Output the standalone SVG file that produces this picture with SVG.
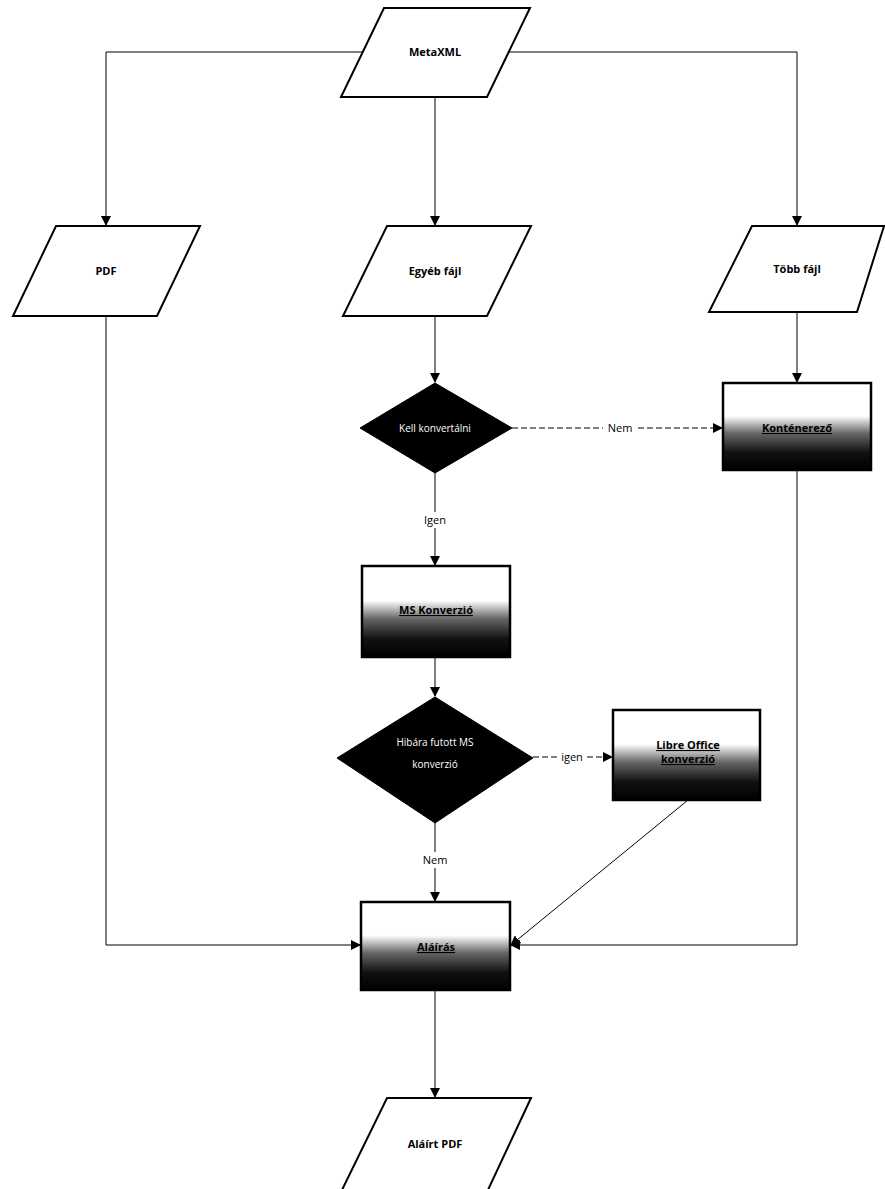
<svg xmlns="http://www.w3.org/2000/svg" width="885" height="1189" viewBox="0 0 885 1189">
<defs>
<style>
.para{fill:#fff;stroke:#000;stroke-width:2}
.box{fill:url(#g);stroke:#000;stroke-width:2.5}
.dia{fill:#000;stroke:#000;stroke-width:1}
.t{font-family:"Open Sans","Liberation Sans",sans-serif;font-size:11px;font-weight:bold;fill:#000;text-anchor:middle}
.bt{font-family:"Open Sans","Liberation Sans",sans-serif;font-size:11px;font-weight:bold;fill:#000;text-anchor:middle;text-decoration:underline}
.dt{font-family:"Open Sans","Liberation Sans",sans-serif;font-size:10px;fill:#fff;text-anchor:middle}
.lt{font-family:"Open Sans","Liberation Sans",sans-serif;font-size:11px;fill:#000;text-anchor:middle}
.c{fill:none;stroke:#000;stroke-width:1}
.d{fill:none;stroke:#000;stroke-width:1;stroke-dasharray:6,3}
</style>
<linearGradient id="g" x1="0" y1="0" x2="0" y2="1">
<stop offset="0" stop-color="#fff"/>
<stop offset="0.38" stop-color="#fff"/>
<stop offset="0.58" stop-color="#666"/>
<stop offset="0.8" stop-color="#111"/>
<stop offset="1" stop-color="#000"/>
</linearGradient>
<marker id="a" markerWidth="10" markerHeight="10" refX="9" refY="5" orient="auto" markerUnits="userSpaceOnUse">
<path d="M0,0 L10,5 L0,10 z" fill="#000"/>
</marker>
</defs>
<g id="connectors">
<polyline class="c" points="366,52 106,52 106,225" marker-end="url(#a)"/>
<polyline class="c" points="509,52 797,52 797,225" marker-end="url(#a)"/>
<line class="c" x1="435" y1="97" x2="435" y2="225" marker-end="url(#a)"/>
<line class="c" x1="435" y1="316" x2="435" y2="382" marker-end="url(#a)"/>
<polyline class="c" points="106,316 106,945 360,945" marker-end="url(#a)"/>
<line class="c" x1="797" y1="312" x2="797" y2="382" marker-end="url(#a)"/>
<line class="d" x1="512" y1="428" x2="722" y2="428" marker-end="url(#a)"/>
<line class="c" x1="435" y1="473" x2="435" y2="565" marker-end="url(#a)"/>
<line class="c" x1="435" y1="657" x2="435" y2="696" marker-end="url(#a)"/>
<line class="d" x1="533" y1="757" x2="612" y2="757" marker-end="url(#a)"/>
<line class="c" x1="435" y1="823" x2="435" y2="901" marker-end="url(#a)"/>
<line class="c" x1="688" y1="800" x2="511" y2="945" marker-end="url(#a)"/>
<polyline class="c" points="797,470 797,945 511,945" marker-end="url(#a)"/>
<line class="c" x1="435" y1="990" x2="435" y2="1097" marker-end="url(#a)"/>
<rect x="603" y="420" width="34" height="14" fill="#fff"/>
<text class="lt" x="620" y="432">Nem</text>
<rect x="417" y="512" width="36" height="16" fill="#fff"/>
<text class="lt" x="435" y="524">Igen</text>
<rect x="558" y="749" width="28" height="14" fill="#fff"/>
<text class="lt" x="572" y="761">igen</text>
<rect x="417" y="852" width="36" height="16" fill="#fff"/>
<text class="lt" x="435" y="864">Nem</text>
</g>
<g id="metaxml">
<polygon class="para" points="384,8 530,8 487,97 341,97"/>
<text class="t" x="435" y="56">MetaXML</text>
</g>
<g id="pdf">
<polygon class="para" points="56,226 200,226 157,316 13,316"/>
<text class="t" x="106" y="275">PDF</text>
</g>
<g id="egyeb">
<polygon class="para" points="387,226 531,226 487,316 343,316"/>
<text class="t" x="435" y="275">Egyéb fájl</text>
</g>
<g id="tobb">
<polygon class="para" points="752,226 884,226 857,312 709,312"/>
<text class="t" x="797" y="273">Több fájl</text>
</g>
<g id="kell">
<polygon class="dia" points="435,383 512,428 435,473 360,428"/>
<text class="dt" x="435" y="432">Kell konvertálni</text>
</g>
<g id="kontenerezo">
<rect class="box" x="723" y="383" width="148" height="87"/>
<text class="bt" x="797" y="432">Konténerező</text>
</g>
<g id="ms">
<rect class="box" x="362" y="566" width="148" height="91"/>
<text class="bt" x="436" y="614">MS Konverzió</text>
</g>
<g id="hiba">
<polygon class="dia" points="435,697 533,758 435,823 337,758"/>
<text class="dt" x="435" y="746">Hibára futott MS</text>
<text class="dt" x="435" y="768">konverzió</text>
</g>
<g id="libre">
<rect class="box" x="613" y="710" width="147" height="90"/>
<text class="bt" x="688" y="749">Libre Office</text>
<text class="bt" x="688" y="763">konverzió</text>
</g>
<g id="alairas">
<rect class="box" x="361" y="902" width="149" height="88"/>
<text class="bt" x="436" y="951">Aláírás</text>
</g>
<g id="alairtpdf">
<polygon class="para" points="387,1098 531,1098 487,1192 341,1192"/>
<text class="t" x="435" y="1148">Aláírt PDF</text>
</g>
</svg>
